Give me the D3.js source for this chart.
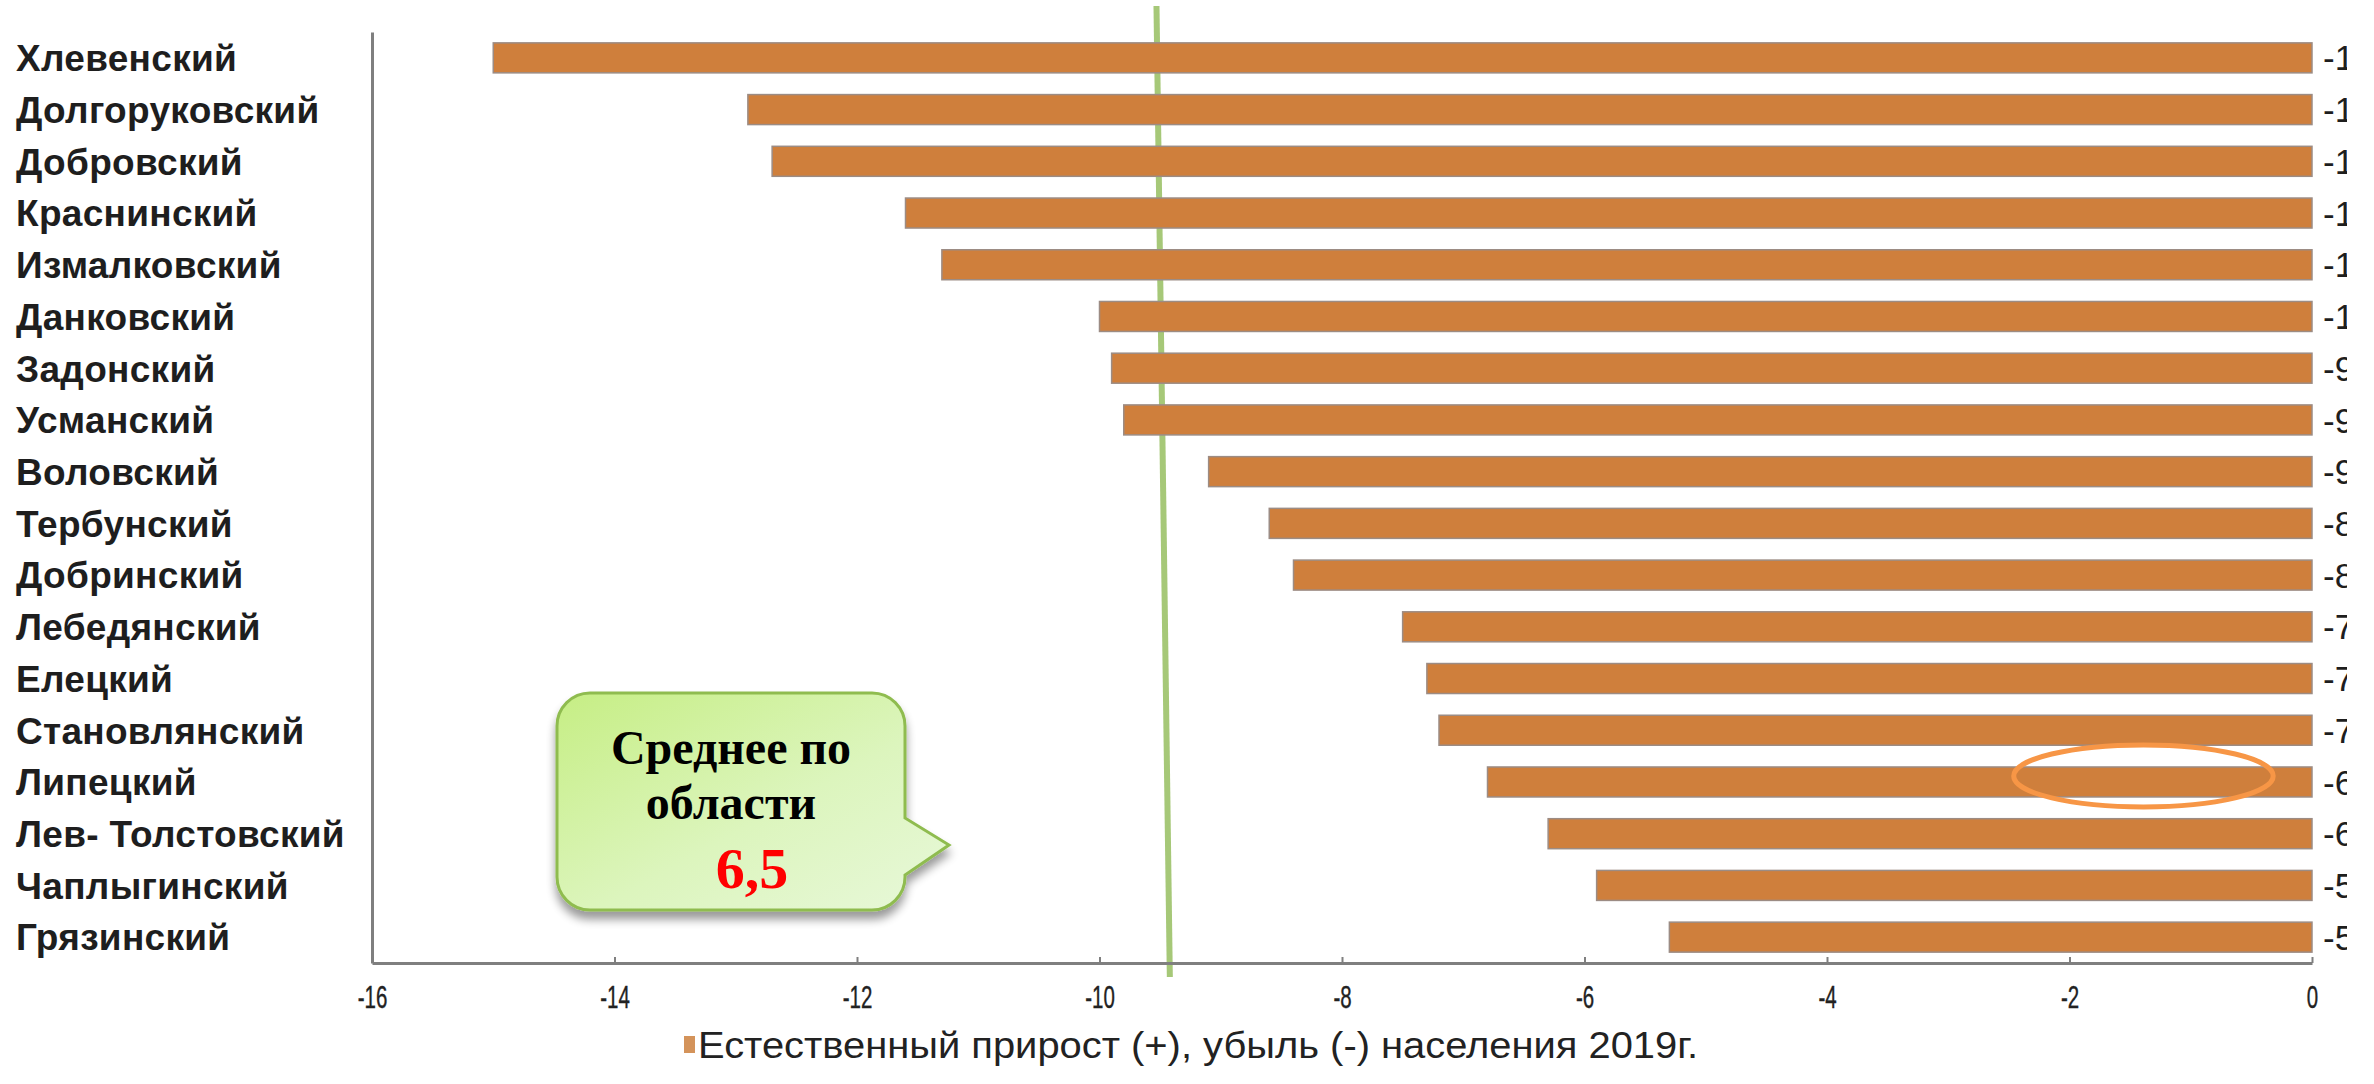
<!DOCTYPE html>
<html>
<head>
<meta charset="utf-8">
<script src="https://cdn.jsdelivr.net/npm/d3@7"></script>
<style>
  html, body { margin: 0; padding: 0; background: #ffffff; }
  svg { display: block; }
</style>
</head>
<body>
<svg id="chart" width="2374" height="1084"></svg>
<script>
// ---------- data ----------
const categories = [
  "Хлевенский", "Долгоруковский", "Добровский", "Краснинский", "Измалковский",
  "Данковский", "Задонский", "Усманский", "Воловский", "Тербунский",
  "Добринский", "Лебедянский", "Елецкий", "Становлянский", "Липецкий",
  "Лев- Толстовский", "Чаплыгинский", "Грязинский"
];
const values = [
  -15.0, -12.9, -12.7, -11.6, -11.3,
  -10.0, -9.9, -9.8, -9.1, -8.6,
  -8.4, -7.5, -7.3, -7.2, -6.8,
  -6.3, -5.9, -5.3
];
const xTicks = [-16, -14, -12, -10, -8, -6, -4, -2, 0];
const xDomain = [-16, 0];
const legendLabel = "Естественный прирост (+), убыль (-) населения 2019г.";
const calloutLines = ["Среднее по", "области"];
const calloutValue = "6,5";
const avgLineX = [-9.53, -9.42];          // top / bottom of the drawn average line
const highlightCategory = "Липецкий";
const highlightRange = [-2.46, -0.32];     // horizontal extent of the orange ellipse

// ---------- layout ----------
const W = 2374, H = 1084;
const plot = { left: 372, right: 2312, top: 32, bottom: 963 };

const svg = d3.select("#chart");
const defs = svg.append("defs");

const x = d3.scaleLinear().domain(xDomain).range([plot.left, plot.right]);
const y = d3.scaleBand().domain(categories).range([plot.top, plot.bottom]).paddingInner(0.42).paddingOuter(0.21);

// clip for value labels (cut at right edge like the reference)
defs.append("clipPath").attr("id", "labelClip")
  .append("rect").attr("x", 0).attr("y", 0).attr("width", 2347).attr("height", H);

// gradient for callout
const grad = defs.append("linearGradient").attr("id", "calloutGrad")
  .attr("x1", "0%").attr("y1", "0%").attr("x2", "100%").attr("y2", "100%");
grad.append("stop").attr("offset", "0%").attr("stop-color", "#c6ee84");
grad.append("stop").attr("offset", "55%").attr("stop-color", "#dcf5bd");
grad.append("stop").attr("offset", "100%").attr("stop-color", "#e8f8da");

const shadow = defs.append("filter").attr("id", "shadow")
  .attr("x", "-10%").attr("y", "-10%").attr("width", "130%").attr("height", "140%");
shadow.append("feGaussianBlur").attr("in", "SourceAlpha").attr("stdDeviation", 5).attr("result", "b");
shadow.append("feOffset").attr("in", "b").attr("dx", 0).attr("dy", 8).attr("result", "o");
shadow.append("feComponentTransfer").attr("in", "o").attr("result", "s")
  .append("feFuncA").attr("type", "linear").attr("slope", 0.4);
const fm = shadow.append("feMerge");
fm.append("feMergeNode").attr("in", "s");
fm.append("feMergeNode").attr("in", "SourceGraphic");

// ---------- average line (behind bars) ----------
svg.append("line")
  .attr("x1", x(avgLineX[0])).attr("y1", 6)
  .attr("x2", x(avgLineX[1])).attr("y2", plot.bottom + 14)
  .attr("stroke", "#a6c878").attr("stroke-width", 6);

// ---------- bars ----------
svg.append("g").selectAll("rect").data(categories).join("rect")
  .attr("x", (d, i) => x(values[i]))
  .attr("y", d => y(d))
  .attr("width", (d, i) => x(0) - x(values[i]))
  .attr("height", y.bandwidth())
  .attr("fill", "#cf7f3c")
  .attr("stroke", "#9c8c84")
  .attr("stroke-width", 1.5);

// ---------- axes ----------
const yAxisG = svg.append("g").attr("transform", `translate(${plot.left},0)`)
  .call(d3.axisLeft(y).tickSize(0).tickFormat(""));
yAxisG.select(".domain").attr("stroke", "#7f7f7f").attr("stroke-width", 3);

const xAxisG = svg.append("g").attr("transform", `translate(0,${plot.bottom})`)
  .call(d3.axisBottom(x).tickValues(xTicks).tickSizeInner(-6).tickSizeOuter(0).tickPadding(22).tickFormat(d => String(d)));
xAxisG.select(".domain").attr("stroke", "#7f7f7f").attr("stroke-width", 3);
xAxisG.selectAll(".tick line").attr("stroke", "#7f7f7f").attr("stroke-width", 2);
xAxisG.selectAll(".tick text")
  .attr("font-family", "'Liberation Sans', Arial, sans-serif")
  .attr("font-size", 32).attr("fill", "#222")
  .attr("stroke", "#222").attr("stroke-width", 0.4)
  .attr("transform", "scale(0.64,1)");

// ---------- category labels (left aligned) ----------
svg.append("g").selectAll("text").data(categories).join("text")
  .attr("x", 16)
  .attr("y", d => y(d) + y.bandwidth() / 2)
  .attr("dy", "0.36em")
  .attr("font-family", "'Liberation Sans', Arial, sans-serif")
  .attr("font-weight", "bold")
  .attr("font-size", 37)
  .attr("letter-spacing", 0.3)
  .attr("fill", "#1e1e1e")
  .text(d => d);

// ---------- value labels (clipped at the right edge) ----------
svg.append("g").attr("clip-path", "url(#labelClip)")
  .selectAll("text").data(categories).join("text")
  .attr("x", x(0) + 11)
  .attr("y", d => y(d) + y.bandwidth() / 2)
  .attr("dy", "0.36em")
  .attr("font-family", "'Liberation Sans', Arial, sans-serif")
  .attr("font-size", 35)
  .attr("fill", "#1e1e1e")
  .text((d, i) => values[i].toFixed(1).replace(".", ","));

// ---------- highlight ellipse ----------
svg.append("ellipse")
  .attr("cx", (x(highlightRange[0]) + x(highlightRange[1])) / 2)
  .attr("cy", y(highlightCategory) + y.bandwidth() / 2 - 6)
  .attr("rx", (x(highlightRange[1]) - x(highlightRange[0])) / 2)
  .attr("ry", 31)
  .attr("fill", "none")
  .attr("stroke", "#f79646")
  .attr("stroke-width", 5);

// ---------- callout ----------
const cx0 = 557, cx1 = 905, cy0 = 693, cy1 = 910, r = 33;
const tip = [949, 845], base0 = 818, base1 = 875;
const path = d3.path();
path.moveTo(cx0 + r, cy0);
path.lineTo(cx1 - r, cy0);
path.arcTo(cx1, cy0, cx1, cy0 + r, r);
path.lineTo(cx1, base0);
path.lineTo(tip[0], tip[1]);
path.lineTo(cx1, base1);
path.lineTo(cx1, cy1 - r);
path.arcTo(cx1, cy1, cx1 - r, cy1, r);
path.lineTo(cx0 + r, cy1);
path.arcTo(cx0, cy1, cx0, cy1 - r, r);
path.lineTo(cx0, cy0 + r);
path.arcTo(cx0, cy0, cx0 + r, cy0, r);
path.closePath();
svg.append("path").attr("d", path.toString())
  .attr("fill", "url(#calloutGrad)")
  .attr("stroke", "#8fbc4f").attr("stroke-width", 3)
  .attr("filter", "url(#shadow)");

const calloutText = svg.append("g")
  .attr("font-family", "'Liberation Serif', 'Times New Roman', serif")
  .attr("font-weight", "bold")
  .attr("text-anchor", "middle");
calloutText.selectAll("text.l").data(calloutLines).join("text").attr("class", "l")
  .attr("x", 731)
  .attr("y", (d, i) => 764 + i * 55)
  .attr("font-size", 48)
  .attr("fill", "#000")
  .text(d => d);
calloutText.append("text")
  .attr("x", 752).attr("y", 888)
  .attr("font-size", 58)
  .attr("fill", "#ff0000")
  .text(calloutValue);

// ---------- legend ----------
const leg = svg.append("g").attr("transform", "translate(684,1045)");
leg.append("rect").attr("x", 0).attr("y", -9).attr("width", 11).attr("height", 17)
  .attr("fill", "#d4935a");
leg.append("text").attr("x", 14).attr("y", 0).attr("dy", "0.36em")
  .attr("font-family", "'Liberation Sans', Arial, sans-serif")
  .attr("font-size", 37).attr("fill", "#222")
  .attr("textLength", 1000).attr("lengthAdjust", "spacingAndGlyphs")
  .text(legendLabel);
</script>
</body>
</html>
